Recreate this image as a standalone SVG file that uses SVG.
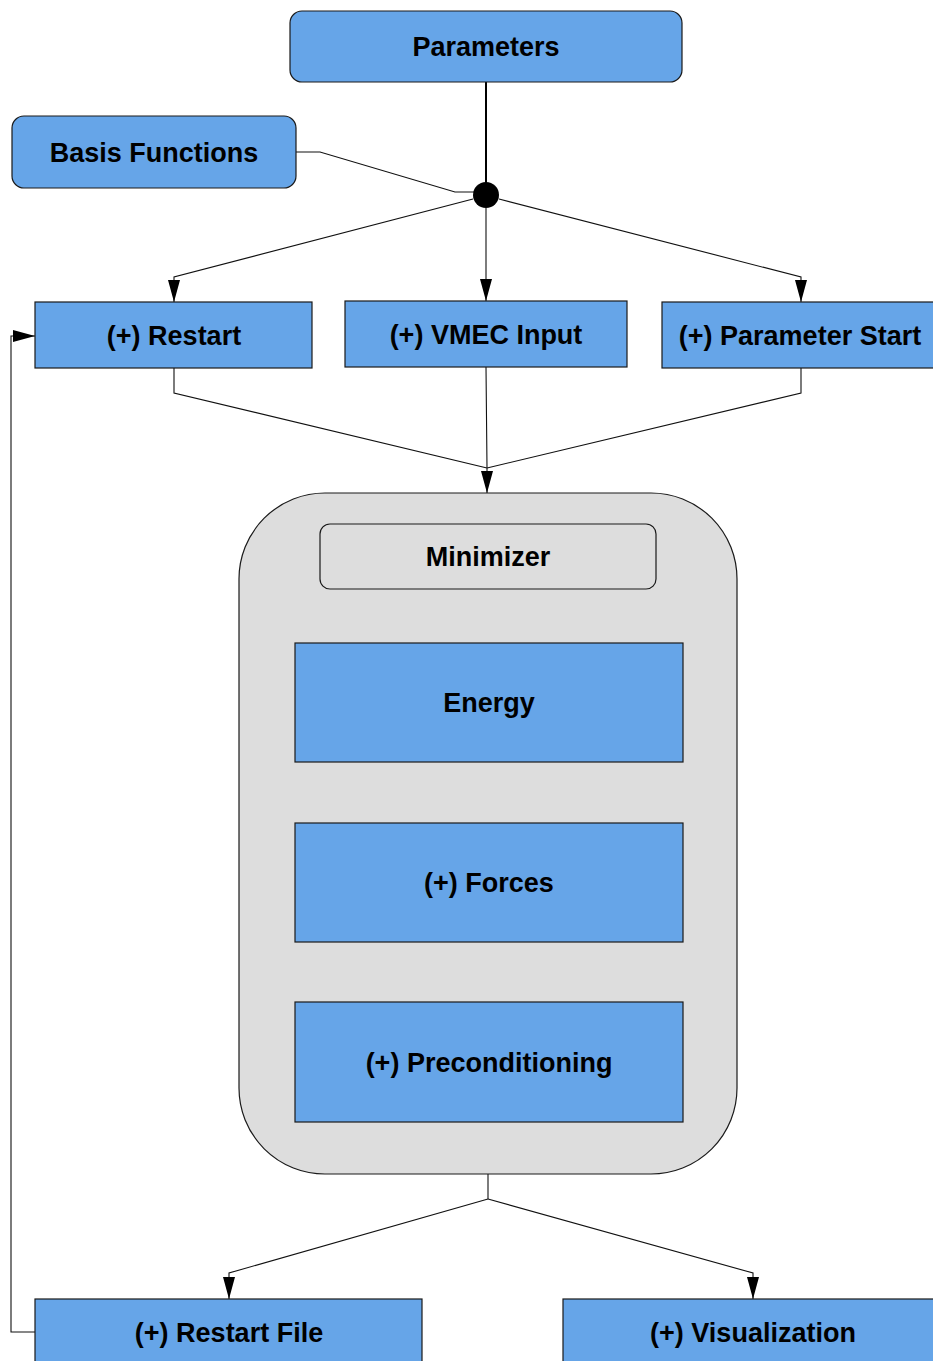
<svg xmlns="http://www.w3.org/2000/svg" width="933" height="1361" viewBox="0 0 933 1361">
  <defs>
    <marker id="arrow" viewBox="0 0 22 12" refX="22" refY="6" markerWidth="22" markerHeight="12" markerUnits="userSpaceOnUse" orient="auto">
      <path d="M0,0 L22,6 L0,12 Z" fill="#000"/>
    </marker>
    <style>
      .box { fill: #66a5e8; stroke: #1a1a1a; stroke-width: 1.2; }
      .grey { fill: #dddddd; stroke: #1a1a1a; stroke-width: 1.2; }
      .lbl { font-family: "Liberation Sans", Arial, sans-serif; font-weight: bold; font-size: 27px; fill: #000; text-anchor: middle; }
      .wire { fill: none; stroke: #111; stroke-width: 1.1; }
      .arr { marker-end: url(#arrow); }
    </style>
  </defs>

  <!-- connectors -->
  <g id="connectors">
    <line x1="486" y1="82" x2="486" y2="185" stroke="#000" stroke-width="2"/>
    <polyline class="wire" points="296,152 320,152 455,192 475,192" stroke="#555"/>
    <circle cx="486" cy="195" r="13" fill="#000"/>
    <polyline class="wire arr" points="473,199 174,277 174,302"/>
    <polyline class="wire arr" points="486,208 486,301"/>
    <polyline class="wire arr" points="499,199 801,277 801,302"/>
    <polyline class="wire" points="174,368 174,393 487,468"/>
    <polyline class="wire" points="801,368 801,393 487,468"/>
    <polyline class="wire arr" points="486,367 487,468 487,493"/>
    <polyline class="wire" points="488,1174 488,1199"/>
    <polyline class="wire arr" points="488,1199 229,1273 229,1299"/>
    <polyline class="wire arr" points="488,1199 753,1273 753,1299"/>
    <polyline class="wire arr" points="35,1332 11,1332 11,336 35,336" stroke="#555"/>
  </g>

  <g id="parameters">
    <rect class="box" x="290" y="11" width="392" height="71" rx="12"/>
    <text class="lbl" x="486" y="56">Parameters</text>
  </g>
  <g id="basis-functions">
    <rect class="box" x="12" y="116" width="284" height="72" rx="12"/>
    <text class="lbl" x="154" y="162">Basis Functions</text>
  </g>
  <g id="restart">
    <rect class="box" x="35" y="302" width="277" height="66"/>
    <text class="lbl" x="174" y="345">(+) Restart</text>
  </g>
  <g id="vmec-input">
    <rect class="box" x="345" y="301" width="282" height="66"/>
    <text class="lbl" x="486" y="344">(+) VMEC Input</text>
  </g>
  <g id="parameter-start">
    <rect class="box" x="662" y="302" width="280" height="66"/>
    <text class="lbl" x="800" y="345">(+) Parameter Start</text>
  </g>
  <g id="minimizer">
    <rect class="grey" x="239" y="493" width="498" height="681" rx="86"/>
    <rect class="grey" x="320" y="524" width="336" height="65" rx="10"/>
    <text class="lbl" x="488" y="566">Minimizer</text>
  </g>
  <g id="energy">
    <rect class="box" x="295" y="643" width="388" height="119"/>
    <text class="lbl" x="489" y="712">Energy</text>
  </g>
  <g id="forces">
    <rect class="box" x="295" y="823" width="388" height="119"/>
    <text class="lbl" x="489" y="892">(+) Forces</text>
  </g>
  <g id="preconditioning">
    <rect class="box" x="295" y="1002" width="388" height="120"/>
    <text class="lbl" x="489" y="1072">(+) Preconditioning</text>
  </g>
  <g id="restart-file">
    <rect class="box" x="35" y="1299" width="387" height="70"/>
    <text class="lbl" x="229" y="1342">(+) Restart File</text>
  </g>
  <g id="visualization">
    <rect class="box" x="563" y="1299" width="380" height="70"/>
    <text class="lbl" x="753" y="1342">(+) Visualization</text>
  </g>
</svg>
